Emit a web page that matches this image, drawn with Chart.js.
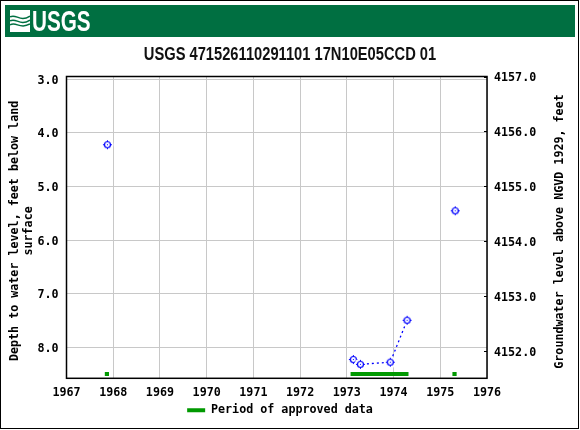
<!DOCTYPE html>
<html>
<head>
<meta charset="utf-8">
<title>USGS 471526110291101</title>
<script src="https://cdn.jsdelivr.net/npm/chart.js@4/dist/chart.umd.min.js"></script>
<style>
    html, body { margin: 0; padding: 0; background: #fff; }
    #wrap { position: relative; width: 580px; height: 430px; overflow: hidden; }
    #wrap canvas { position: absolute; left: 0; top: 0; }
    #frame { position: absolute; left: 0; top: 0; width: 577px; height: 427px; border: 1.5px solid #000; }
    #banner { position: absolute; left: 5px; top: 5px; width: 570px; height: 32px; background: #006f41; }
    #banner svg { position: absolute; left: 5px; top: 5px; }
    #banner span {
        position: absolute; left: 27px; top: 0; color: #fff;
        font: bold 30px/32px "Liberation Sans", sans-serif;
        transform: scaleX(0.69); transform-origin: left center;
    }
</style>
</head>
<body>
<div id="wrap">
    <canvas id="chart" width="580" height="430"></canvas>
    <div id="frame"></div>
    <div id="banner">
        <svg width="20" height="22" viewBox="0 0 20 22">
            <rect width="20" height="22" fill="#fff"/>
            <path d="M0 7 C6 3 10 13 20 6 M0 11 C6 7 10 17 20 10 M0 15 C6 11 10 20 20 14" fill="none" stroke="#006f41" stroke-width="1.5"/>
        </svg>
        <span>USGS</span>
    </div>
</div>
<script>
// --- Dados ---
const chartTitle = 'USGS 471526110291101 17N10E05CCD 01';
const leftTitle = ['Depth to water level, feet below land ', 'surface '];
const rightTitle = 'Groundwater level above NGVD 1929, feet';
const legendLabel = 'Period of approved data';

const yearTicks = [1967, 1968, 1969, 1970, 1971, 1972, 1973, 1974, 1975, 1976];
const depthTicks = [3, 4, 5, 6, 7, 8];
const elevationTicks = [4152, 4153, 4154, 4155, 4156, 4157];

// null separa as medições isoladas
const sampleYears = [1967.876, null, 1973.14, 1973.29, 1973.93, 1974.29, null, 1975.32];
const sampleDepths = [4.22, null, 8.22, 8.31, 8.27, 7.49, null, 5.45];

const approvedYears = [1967.82, 1967.91, null, 1973.08, 1974.32, null, 1975.26, 1975.35];
const approvedDepth = 8.49;

// --- Marcador: círculo com ponto central ---
function makeMarker() {
    const c = document.createElement('canvas');
    c.width = 15; c.height = 15;
    const g = c.getContext('2d');
    g.fillStyle = '#fff';
    g.beginPath(); g.arc(7.5, 7.5, 6, 0, Math.PI * 2); g.fill();
    g.strokeStyle = '#0000ff';
    g.lineWidth = 1.2;
    g.beginPath(); g.arc(7.5, 7.5, 3, 0, Math.PI * 2); g.stroke();
    g.fillStyle = '#0000ff';
    g.fillRect(7, 7, 1, 1);
    g.fillRect(7, 3, 1, 1); g.fillRect(7, 11, 1, 1);
    g.fillRect(3, 7, 1, 1); g.fillRect(11, 7, 1, 1);
    return c;
}

const monoFont = { family: '"DejaVu Sans Mono", monospace', size: 11.7, weight: 'bold' };
// lineHeight baixo: a linha vazia desce o rótulo 1.5px, como no original
const tickFont = { ...monoFont, lineHeight: 0.25 };

function toPoints(xs, ys) {
    return xs.map((x, i) => ({ x: x, y: ys[i] }));
}

// --- Moldura, título e eixo direito ---
const plotFrame = {
    id: 'plotFrame',
    afterDatasetsDraw(chart) {
        const { ctx, chartArea: a, scales } = chart;
        ctx.save();
        ctx.strokeStyle = '#000';
        ctx.lineWidth = 1.5;
        ctx.strokeRect(a.left, a.top, a.right - a.left, a.bottom - a.top);
        ctx.lineWidth = 1;
        elevationTicks.forEach(v => {
            const y = Math.round(scales.yRight.getPixelForValue(v)) + 0.5;
            ctx.beginPath();
            ctx.moveTo(a.right - 3, y);
            ctx.lineTo(a.right, y);
            ctx.stroke();
        });
        ctx.restore();

        // Título condensado (a fonte narrow não existe aqui)
        ctx.save();
        ctx.fillStyle = '#111';
        ctx.font = 'bold 18px "Liberation Sans", sans-serif';
        ctx.textAlign = 'center';
        ctx.textBaseline = 'alphabetic';
        ctx.translate(290, 60);
        ctx.scale(0.816, 1);
        ctx.fillText(chartTitle, 0, 0);
        ctx.restore();

        // Título direito lê de baixo para cima
        ctx.save();
        ctx.fillStyle = '#000';
        ctx.font = 'bold 11.7px "DejaVu Sans Mono", monospace';
        ctx.textAlign = 'center';
        ctx.textBaseline = 'middle';
        ctx.translate(560, 231.5);
        ctx.rotate(-Math.PI / 2);
        ctx.fillText(rightTitle, 0, 0);
        ctx.restore();
    }
};

new Chart(document.getElementById('chart'), {
    type: 'scatter',
    plugins: [plotFrame],
    data: {
        datasets: [
            {
                label: 'Water level',
                data: toPoints(sampleYears, sampleDepths),
                showLine: true,
                spanGaps: false,
                borderColor: '#0000ff',
                borderWidth: 1.3,
                borderDash: [2, 3],
                pointStyle: makeMarker(),
                order: 1
            },
            {
                label: legendLabel,
                data: toPoints(approvedYears, approvedYears.map(y => y === null ? null : approvedDepth)),
                showLine: true,
                spanGaps: false,
                borderColor: '#009900',
                backgroundColor: '#009900',
                borderWidth: 4,
                borderCapStyle: 'butt',
                pointRadius: 0,
                order: 2
            }
        ]
    },
    options: {
        responsive: false,
        animation: false,
        layout: { padding: { top: 76.5, bottom: 4, left: 8, right: 28 } },
        plugins: {
            tooltip: { enabled: false },
            title: { display: false },
            legend: {
                position: 'bottom',
                labels: {
                    generateLabels: () => [{
                        text: legendLabel, fillStyle: '#009900', strokeStyle: '#009900',
                        lineWidth: 0, fontColor: '#000', datasetIndex: 1
                    }],
                    boxWidth: 18,
                    boxHeight: 4,
                    padding: 5,
                    color: '#000',
                    font: monoFont
                }
            }
        },
        scales: {
            x: {
                type: 'linear',
                min: 1967,
                max: 1976,
                afterBuildTicks: s => { s.ticks = yearTicks.map(v => ({ value: v })); },
                afterFit: s => { s.height = 21; },
                grid: { color: '#c8c8c8', lineWidth: 1, drawTicks: false },
                border: { display: false },
                ticks: {
                    color: '#000', font: monoFont, padding: 8, maxRotation: 0, autoSkip: false,
                    callback: v => String(v)
                }
            },
            y: {
                position: 'left',
                reverse: true,
                min: 2.95,
                max: 8.57,
                afterBuildTicks: s => { s.ticks = depthTicks.map(v => ({ value: v })); },
                afterFit: s => { s.width = 58.5; },
                grid: { color: '#c8c8c8', lineWidth: 1, drawTicks: false },
                border: { display: false },
                title: { display: true, text: leftTitle, color: '#000', font: monoFont, padding: 0 },
                ticks: { color: '#000', font: tickFont, padding: 8, callback: v => ['', v.toFixed(1)] }
            },
            yRight: {
                position: 'right',
                min: 4151.51,
                max: 4157,
                afterBuildTicks: s => { s.ticks = elevationTicks.map(v => ({ value: v })); },
                afterFit: s => { s.width = 65; },
                grid: { display: false, drawTicks: false },
                border: { display: false },
                ticks: { color: '#000', font: tickFont, padding: 7, callback: v => ['', v.toFixed(1)] }
            }
        }
    }
});
</script>
</body>
</html>
